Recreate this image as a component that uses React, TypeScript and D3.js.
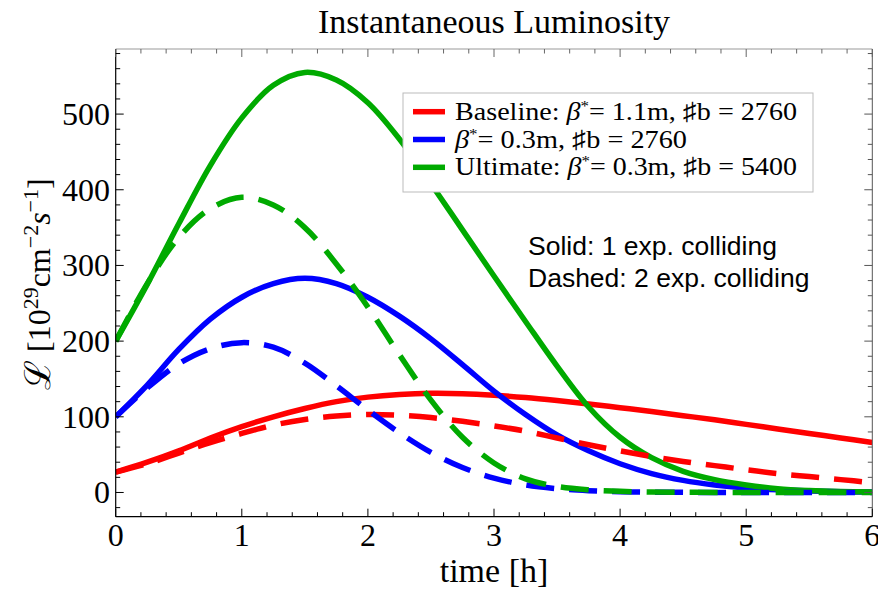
import React from 'react';
import * as d3 from 'd3';

const times = [0, 0.25, 0.5, 0.75, 1, 1.25, 1.5, 1.75, 2, 2.25, 2.5, 2.75, 3, 3.25, 3.5, 3.75, 4, 4.25, 4.5, 4.75, 5, 5.25, 5.5, 5.75, 6];

const redSolid = [27, 40, 55, 72, 87, 100, 111, 120, 126, 129.5, 131, 130.5, 128.5, 125.5, 121.5, 117, 112, 107, 101.5, 96, 90, 84, 78, 72, 66];
const blueSolid = [100, 142, 189, 229, 258, 276, 283, 276, 258, 233, 203, 169, 134, 103, 76, 55, 38, 25, 16, 10, 6, 3.5, 2, 1, 0.5];
const greenSolid = [200, 275, 355, 432, 495, 538, 555, 545, 515, 467, 408, 347, 286, 226, 167, 113, 73, 46, 28, 17, 10, 5, 2.5, 1.2, 0.6];
const redDashed = [27, 38, 52, 66, 78, 89, 96.5, 101, 103, 102, 99, 94, 88, 81, 72, 63, 55, 47.5, 41, 35.5, 30, 25, 21, 17, 13];
const blueDashed = [100, 138, 170, 190, 198, 192, 171, 141, 109, 79, 53, 33, 19, 10, 5, 2.4, 1.1, 0.5, 0.2, 0.1, 0, 0, 0, 0, 0];
const greenDashed = [200, 276, 337, 375, 390, 380, 350, 302, 245, 182, 122, 73, 39, 18, 8, 3.5, 1.5, 0.7, 0.3, 0.1, 0, 0, 0, 0, 0];

const xTicks = [0, 1, 2, 3, 4, 5, 6];
const yTicks = [0, 100, 200, 300, 400, 500];

const legendLabels = [
  { pre: 'Baseline: ', post: '= 1.1m, \u266Fb = 2760' },
  { pre: '', post: '= 0.3m, \u266Fb = 2760' },
  { pre: 'Ultimate: ', post: '= 0.3m, \u266Fb = 5400' },
];
const legendWidths = [342, 232, 342];
const colors = ['#ff0000', '#0000ff', '#00aa00'];

const SERIF = '"Liberation Serif", "Times New Roman", serif';
const SANS = '"Liberation Sans", Arial, sans-serif';

export default function App() {
  const W = 878, H = 593;
  const L = 115.7, R = 872.3, T = 49, B = 516.7;
  const x = d3.scaleLinear().domain([0, 6]).range([L, R]);
  const y = d3.scaleLinear().domain([-32, 586]).range([B, T]);
  const line = d3.line<number>()
    .x((d, i) => x(times[i]))
    .y((d) => y(d))
    .curve(d3.curveCatmullRom.alpha(0.5));

  const xMinor = d3.range(0, 6.001, 0.2).filter((v) => Math.abs(v - Math.round(v)) > 1e-6);
  const yMinor = d3.range(-20, 581, 20).filter((v) => v % 100 !== 0);

  const solids = [redSolid, blueSolid, greenSolid];
  const dashed = [redDashed, blueDashed, greenDashed];
  const lw = 5.5;
  const dash = '28,15';

  return (
    <svg width={W} height={H} style={{ position: 'absolute', left: 0, top: 0, background: '#fff' }}>
      <rect x={0} y={0} width={W} height={H} fill="#fff" />
      <defs>
        <clipPath id="plotclip">
          <rect x={L} y={T} width={R - L} height={B - T} />
        </clipPath>
      </defs>
      {/* title */}
      <text x={(L + R) / 2} y={33} textAnchor="middle" fontFamily={SERIF} fontSize={34} fill="#000">
        Instantaneous Luminosity
      </text>

      {/* curves */}
      <g clipPath="url(#plotclip)" fill="none" strokeLinejoin="round">
        {solids.map((s, i) => (
          <path key={'s' + i} d={line(s) || ''} stroke={colors[i]} strokeWidth={lw} />
        ))}
        {dashed.map((s, i) => (
          <path key={'d' + i} d={line(s) || ''} stroke={colors[i]} strokeWidth={lw} strokeDasharray={dash} />
        ))}
      </g>

      {/* frame */}
      <line x1={L} x2={R} y1={T} y2={T} stroke="#999" strokeWidth={1} />
      <line x1={R} x2={R} y1={T} y2={B} stroke="#555" strokeWidth={1} />
      <line x1={L} x2={L} y1={T} y2={B} stroke="#000" strokeWidth={1.2} />
      <line x1={L} x2={R} y1={B} y2={B} stroke="#000" strokeWidth={1.2} />

      {/* x ticks */}
      {xTicks.map((t) => (
        <g key={'xt' + t}>
          <line x1={x(t)} x2={x(t)} y1={B} y2={B - 8} stroke="#000" />
          <line x1={x(t)} x2={x(t)} y1={T} y2={T + 8} stroke="#666" />
          <text x={x(t)} y={546} textAnchor="middle" fontFamily={SERIF} fontSize={32} fill="#000">{t}</text>
        </g>
      ))}
      {xMinor.map((t, i) => (
        <g key={'xm' + i}>
          <line x1={x(t)} x2={x(t)} y1={B} y2={B - 4.5} stroke="#000" />
          <line x1={x(t)} x2={x(t)} y1={T} y2={T + 4.5} stroke="#666" />
        </g>
      ))}
      {/* y ticks */}
      {yTicks.map((v) => (
        <g key={'yt' + v}>
          <line x1={L} x2={L + 8} y1={y(v)} y2={y(v)} stroke="#000" />
          <line x1={R} x2={R - 8} y1={y(v)} y2={y(v)} stroke="#555" />
          <text x={110} y={y(v) + 11} textAnchor="end" fontFamily={SERIF} fontSize={32} fill="#000">{v}</text>
        </g>
      ))}
      {yMinor.map((v, i) => (
        <g key={'ym' + i}>
          <line x1={L} x2={L + 4.5} y1={y(v)} y2={y(v)} stroke="#000" />
          <line x1={R} x2={R - 4.5} y1={y(v)} y2={y(v)} stroke="#555" />
        </g>
      ))}

      {/* axis labels */}
      <text x={(L + R) / 2} y={582} textAnchor="middle" fontFamily={SERIF} fontSize={34} fill="#000">time [h]</text>
      <text transform="translate(50,390) rotate(-90)" textAnchor="start" fontFamily={SERIF} fontSize={32} fill="#000">
        <tspan fontSize={36}>{'\u2112'}</tspan>
        <tspan> [10</tspan>
        <tspan dy={-12} fontSize={22}>29</tspan>
        <tspan dy={12}>cm</tspan>
        <tspan dy={-12} fontSize={22}>{'\u22122'}</tspan>
        <tspan dy={12} fontStyle="italic">s</tspan>
        <tspan dy={-12} fontSize={22}>{'\u22121'}</tspan>
        <tspan dy={12}>]</tspan>
      </text>

      {/* legend */}
      <rect x={403} y={93} width={410} height={99} fill="#fff" stroke="#bbb" strokeWidth={1} />
      {legendLabels.map((lab, i) => {
        const cy = 111.7 + i * 27.8;
        return (
          <g key={'lg' + i}>
            <line x1={413} x2={445} y1={cy} y2={cy} stroke={colors[i]} strokeWidth={lw} />
            <text x={455} y={cy + 8} fontFamily={SERIF} fontSize={25} fill="#000"
              textLength={legendWidths[i]} lengthAdjust="spacingAndGlyphs">
              {lab.pre}
              <tspan fontStyle="italic">{'\u03B2'}</tspan>
              <tspan dy={-9} fontSize={15}>*</tspan>
              <tspan dy={9}>{lab.post}</tspan>
            </text>
          </g>
        );
      })}

      {/* annotation */}
      <text x={528} y={255} fontFamily={SANS} fontSize={26.5} fill="#000">Solid: 1 exp. colliding</text>
      <text x={528} y={287} fontFamily={SANS} fontSize={26.5} fill="#000">Dashed: 2 exp. colliding</text>
    </svg>
  );
}
